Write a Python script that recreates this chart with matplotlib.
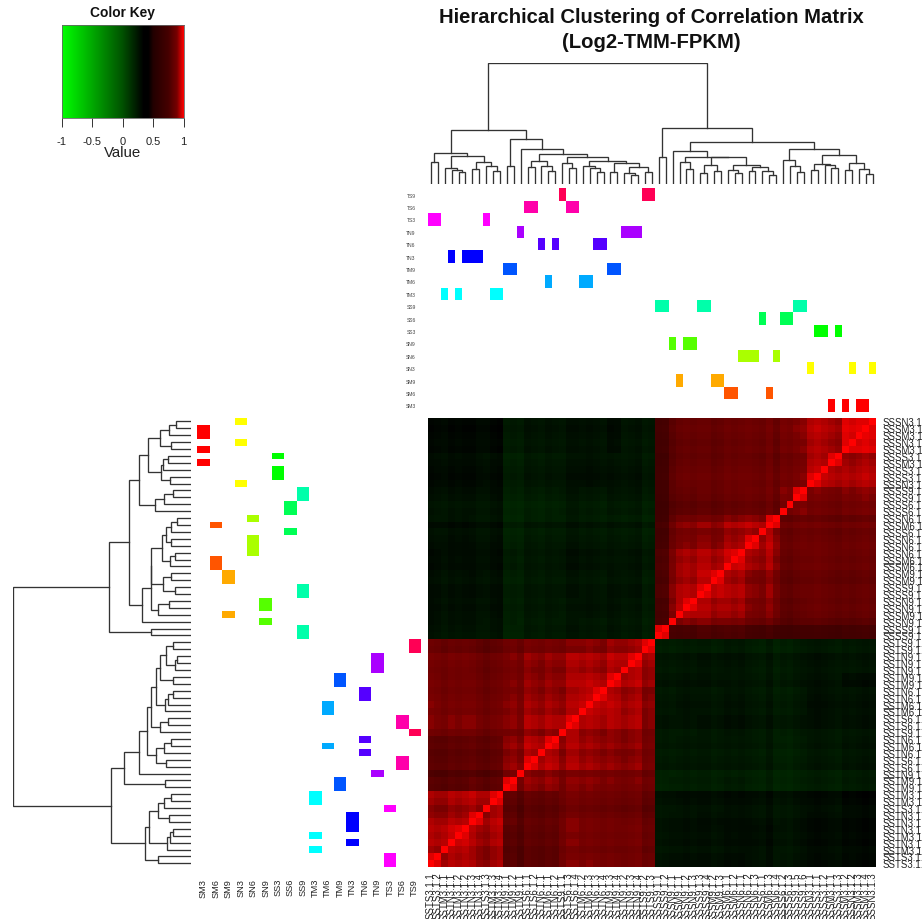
import numpy as np
import matplotlib
matplotlib.use('Agg')
import matplotlib.pyplot as plt
from matplotlib.colors import LinearSegmentedColormap

plt.rcParams['font.family'] = ['Liberation Sans', 'DejaVu Sans']

W, H = 922, 920

conditions = ['SM3', 'SM6', 'SM9', 'SN3', 'SN6', 'SN9', 'SS3', 'SS6', 'SS9',
              'TM3', 'TM6', 'TM9', 'TN3', 'TN6', 'TN9', 'TS3', 'TS6', 'TS9']
condition_colors = ['#FF0000', '#FF5500', '#FFAA00', '#FFFF00', '#AAFF00', '#55FF00',
                    '#00FF00', '#00FF55', '#00FFAA', '#00FFFF', '#00AAFF', '#0055FF',
                    '#0000FF', '#5500FF', '#AA00FF', '#FF00FF', '#FF00AA', '#FF0055']

# condition of every leaf, in dendrogram order (left to right on the top tree)
leaf_conditions = ['TS3', 'TS3', 'TM3', 'TN3', 'TM3', 'TN3', 'TN3', 'TN3', 'TS3', 'TM3', 'TM3',
                   'TM9', 'TM9', 'TN9', 'TS6', 'TS6', 'TN6', 'TM6', 'TN6', 'TS9', 'TS6', 'TS6',
                   'TM6', 'TM6', 'TN6', 'TN6', 'TM9', 'TM9', 'TN9', 'TN9', 'TN9', 'TS9', 'TS9',
                   'SS9', 'SS9', 'SN9', 'SM9', 'SN9', 'SN9', 'SS9', 'SS9', 'SM9', 'SM9', 'SM6',
                   'SM6', 'SN6', 'SN6', 'SN6', 'SS6', 'SM6', 'SN6', 'SS6', 'SS6', 'SS9', 'SS9',
                   'SN3', 'SS3', 'SS3', 'SM3', 'SS3', 'SM3', 'SN3', 'SM3', 'SM3', 'SN3']

# tree as (height, left, right), an int is a leaf
tree_t = (.448,
          (.254, (.185, 0, 1),
           (.235, (.133, 2, (.119, 3, (.102, 4, 5))),
            (.185, (.124, 6, 7), (.152, 8, (.108, 9, 10))))),
          (.373, (.146, 11, 12),
           (.29, 13,
            (.246, (.193, (.141, 14, 15), (.152, 16, (.108, 17, 18))),
             (.221, (.171, 19, (.13, 20, 21)),
              (.193, (.146, 22, (.13, 23, (.102, 24, 25))),
               (.171, (.097, 26, 27),
                (.138, (.091, 28, (.075, 29, 30)), (.097, 31, 32)))))))))
tree_s = (.461,
          (.221, 33, 34),
          (.345,
           (.276, 35,
            (.221, (.185, 36, (.124, 37, 38)),
             (.224, (.157, (.088, 39, 40), (.108, 41, 42)),
              (.16, (.119, 43, (.088, 44, 45)),
               (.138, (.11, 46, 47), (.11, 48, (.077, 49, 50))))))),
           (.29,
            (.199, 51, (.152, 52, (.102, 53, 54))),
            (.24,
             (.166, (.119, 55, 56), (.157, 57, (.13, 58, 59))),
             (.174, (.113, 60, 61), (.124, 62, (.08, 63, 64)))))))
tree = (1.0, tree_t, tree_s)

# correlation by leaf group, read block by block from the heatmap
t_groups = [2, 4, 2, 3, 2, 1, 5, 3, 4, 2, 3, 2]
s_groups = [2, 1, 3, 4, 3, 5, 4, 5, 5]
t_t = [[.94, .92, .91, .91, .80, .78, .80, .88, .88, .87, .87, .86],
       [.92, .94, .92, .92, .80, .79, .81, .88, .87, .86, .87, .85],
       [.91, .92, .94, .93, .83, .80, .82, .88, .87, .86, .86, .84],
       [.91, .92, .93, .94, .82, .80, .82, .87, .86, .85, .85, .83],
       [.80, .80, .83, .82, .94, .90, .91, .90, .90, .89, .89, .88],
       [.78, .79, .80, .80, .90, .93, .91, .90, .90, .89, .89, .87],
       [.80, .81, .82, .82, .91, .91, .93, .92, .91, .90, .90, .89],
       [.88, .88, .88, .87, .90, .90, .92, .94, .92, .92, .92, .90],
       [.88, .87, .87, .86, .90, .90, .91, .92, .94, .93, .92, .91],
       [.87, .86, .86, .85, .89, .89, .90, .92, .93, .94, .93, .92],
       [.87, .87, .86, .85, .89, .89, .90, .92, .92, .93, .94, .93],
       [.86, .85, .84, .83, .88, .87, .89, .90, .91, .92, .93, .95]]
s_s = [[.95, .78, .76, .78, .78, .76, .75, .74, .74],
       [.78, .94, .90, .90, .89, .86, .83, .82, .80],
       [.76, .90, .93, .92, .91, .89, .84, .84, .82],
       [.78, .90, .92, .94, .92, .90, .85, .84, .82],
       [.78, .89, .91, .92, .94, .92, .86, .85, .83],
       [.76, .86, .89, .90, .92, .94, .88, .86, .85],
       [.75, .83, .84, .85, .86, .88, .94, .90, .90],
       [.74, .82, .84, .84, .85, .86, .90, .94, .92],
       [.74, .80, .82, .82, .83, .85, .90, .92, .95]]
t_s = [[.28, .29, .28, .28, .29, .28, .29, .30, .30],
       [.27, .28, .27, .27, .28, .29, .29, .30, .30],
       [.27, .28, .27, .28, .28, .28, .29, .30, .30],
       [.28, .28, .28, .28, .29, .29, .30, .30, .31],
       [.22, .23, .22, .22, .23, .22, .23, .23, .23],
       [.24, .23, .23, .23, .23, .23, .24, .24, .24],
       [.25, .24, .24, .24, .24, .24, .24, .25, .25],
       [.27, .26, .25, .26, .27, .26, .27, .27, .26],
       [.26, .25, .26, .25, .26, .25, .26, .28, .26],
       [.27, .26, .26, .26, .25, .25, .27, .27, .28],
       [.26, .25, .25, .26, .26, .25, .27, .27, .25],
       [.25, .24, .24, .24, .25, .24, .26, .26, .25]]

# how much lighter or darker each leaf's row and column looks in the picture
leaf_shift = [.01, .00, -.01, .01, .00, .01, .01, -.01, -.02, .00, .01,
              -.01, .00, -.02, .01, .00, -.01, .01, .00, -.02, .01, .01,
              .00, .01, .00, -.01, .01, .00, -.01, .00, .01, -.02, -.01,
              -.02, -.01, -.01, .00, .01, .00, .01, .01, -.01, .00, .01,
              .00, .01, .00, -.01, -.02, .01, -.03, -.03, -.04, -.02, -.01,
              .00, .01, .00, -.01, -.02, .01, .00, .01, .02, .01]

# neighbouring leaves that merge first on the tree stay brightest next to the diagonal
bright_pairs = [(0, 1), (4, 5), (6, 7), (9, 10), (11, 12), (14, 15), (17, 18), (20, 21),
                (24, 25), (26, 27), (29, 30), (31, 32), (33, 34), (37, 38), (39, 40),
                (41, 42), (44, 45), (46, 47), (49, 50), (53, 54), (55, 56), (58, 59),
                (60, 61), (63, 64)]
bright_value = .97

# colour key anchors, read along the key
key_values = [-1, -.5, 0, .34, .42, .5, .75, .89, .97, 1]
key_colors = ['#00FF00', '#00A800', '#005000', '#000000', '#000000',
              '#230000', '#460000', '#780000', '#DC0000', '#FF0000']
key_ticks = [-1, -.5, 0, .5, 1]
key_tick_labels = ['-1', '-0.5', '0', '0.5', '1']


def expand(table, row_sizes, col_sizes):
    return np.repeat(np.repeat(np.array(table), row_sizes, axis=0), col_sizes, axis=1)


tt = expand(t_t, t_groups, t_groups)
ss = expand(s_s, s_groups, s_groups)
ts = expand(t_s, t_groups, s_groups)
matrix = np.block([[tt, ts], [ts.T, ss]])
shift = np.array(leaf_shift)
matrix = matrix + shift[:, None] + shift[None, :]
matrix = np.clip(matrix, -1, .99)
for a, b in bright_pairs:
    matrix[a, b] = bright_value
    matrix[b, a] = bright_value
np.fill_diagonal(matrix, 1.0)
n = len(leaf_conditions)

leaf_labels = []
counts = {}
for c in leaf_conditions:
    counts[c] = counts.get(c, 0) + 1
    leaf_labels.append('SS%s.1.%d' % (c, counts[c]))

anchors = [(v + 1) / 2 for v in key_values]
cmap = LinearSegmentedColormap.from_list('key', list(zip(anchors, key_colors)), N=512)

fig = plt.figure(figsize=(W / 100, H / 100), dpi=100)


def add_ax(x0, y0, x1, y1):
    # pixel box of the reference, y measured from the top
    ax = fig.add_axes([x0 / W, 1 - y1 / H, (x1 - x0) / W, (y1 - y0) / H])
    ax.set_xticks([])
    ax.set_yticks([])
    for s in ax.spines.values():
        s.set_visible(False)
    return ax


def draw_tree(ax, node, vertical):
    # returns leaf position and height of a node
    if isinstance(node, int):
        return node + .5, 0.0
    h, left, right = node
    p1, h1 = draw_tree(ax, left, vertical)
    p2, h2 = draw_tree(ax, right, vertical)
    pos = [p1, p1, p2, p2]
    hts = [h1, h, h, h2]
    if vertical:
        ax.plot(pos, hts, color='#333333', lw=.95, solid_joinstyle='miter')
    else:
        ax.plot(hts, pos, color='#333333', lw=.95, solid_joinstyle='miter')
    return (p1 + p2) / 2, h


hm_x0, hm_x1, hm_y0, hm_y1 = 427.5, 876.3, 419, 867.8

# heatmap
ax = add_ax(hm_x0, hm_y0, hm_x1, hm_y1)
ax.pcolormesh(np.arange(n + 1), np.arange(n + 1), matrix, cmap=cmap, vmin=-1, vmax=1)
ax.set_xlim(0, n)
ax.set_ylim(0, n)
ax.set_xticks(np.arange(n) + .5)
ax.set_xticklabels(leaf_labels, rotation=90, fontsize=6.9, color='#222222')
ax.yaxis.tick_right()
ax.set_yticks(np.arange(n) + .5)
ax.set_yticklabels(leaf_labels, fontsize=6.9, color='#222222')
ax.tick_params(axis='x', length=0, pad=3.5)
ax.tick_params(axis='y', length=0, pad=4.5)

# dendrograms
ax = add_ax(hm_x0, 64.3, hm_x1, 185)
draw_tree(ax, tree, True)
ax.set_xlim(0, n)
ax.set_ylim(0, 1)
ax.patch.set_alpha(0)

ax = add_ax(12.7, hm_y0, 190.7, hm_y1)
draw_tree(ax, tree, False)
ax.set_ylim(0, n)
ax.set_xlim(1, 0)
ax.patch.set_alpha(0)

# sample annotation, top
m = len(conditions)
ax = add_ax(hm_x0, 189.3, hm_x1, 412.7)
for i, c in enumerate(leaf_conditions):
    k = conditions.index(c)
    ax.bar(i + .5, 1, width=1, bottom=k, color=condition_colors[k], lw=0)
ax.set_xlim(0, n)
ax.set_ylim(0, m)
ax.set_yticks(np.arange(m) + .5)
ax.set_yticklabels(conditions, fontsize=3.6, color='#444444')
ax.tick_params(length=0, pad=8.5)

# sample annotation, left
ax = add_ax(197.3, hm_y0, 421, hm_y1)
for i, c in enumerate(leaf_conditions):
    k = conditions.index(c)
    ax.barh(i + .5, 1, height=1, left=k, color=condition_colors[k], lw=0)
ax.set_ylim(0, n)
ax.set_xlim(0, m)
ax.set_xticks(np.arange(m) + .5)
ax.set_xticklabels(conditions, rotation=90, fontsize=6.7, color='#222222')
ax.tick_params(length=0, pad=8)

# colour key
ax = add_ax(61.7, 25.7, 183.7, 119)
grad = np.linspace(-1, 1, 256)[None, :]
ax.imshow(grad, cmap=cmap, vmin=-1, vmax=1, extent=(-1, 1, 0, 1), aspect='auto')
ax.set_yticks([])
ax.set_xticks(key_ticks)
ax.set_xticklabels(key_tick_labels, fontsize=8, color='#222222')
ax.tick_params(axis='x', length=6.5, width=.7, pad=6.5, color='#333333')
ax.set_xlabel('Value', fontsize=10.8, color='#222222', labelpad=-1)
ax.set_title('Color Key', fontsize=9.9, fontweight='bold', color='#111111', pad=6)
for s in ax.spines.values():
    s.set_visible(True)
    s.set_linewidth(.6)
    s.set_color('#666666')

fig.text(651 / W, 1 - 30 / H, 'Hierarchical Clustering of Correlation Matrix\n(Log2-TMM-FPKM)',
         ha='center', va='center', fontsize=14.6, fontweight='bold', color='#111111',
         linespacing=1.35)

fig.savefig('out.png', dpi=100, facecolor='white')
